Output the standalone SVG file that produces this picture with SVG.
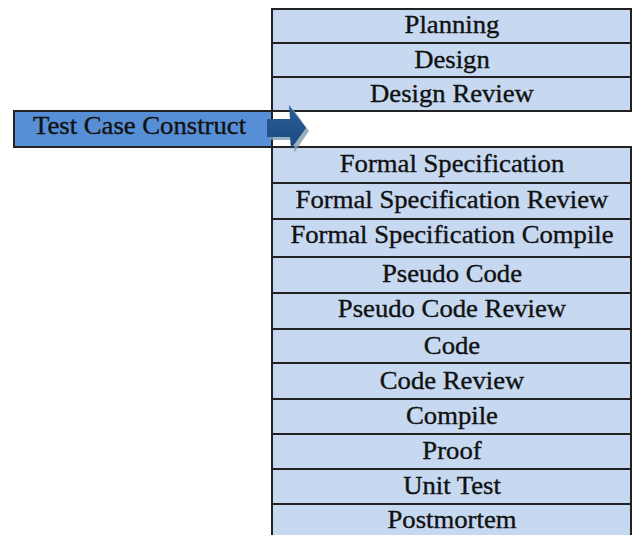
<svg xmlns="http://www.w3.org/2000/svg" width="636" height="535" viewBox="0 0 636 535">
<style>
.row{fill:#c6d9f1;stroke:#222;stroke-width:2}
.lbl{font-family:"Liberation Serif","Times New Roman",serif;font-size:24.5px;fill:#111;stroke:#111;stroke-width:0.35;text-anchor:middle}
.src{fill:#578fd6;stroke:#222;stroke-width:2}
</style>
<defs>
<linearGradient id="ag" x1="0" y1="0" x2="0" y2="1">
<stop offset="0" stop-color="#2a5d9a"/>
<stop offset="1" stop-color="#1d4a80"/>
</linearGradient>
</defs>
<rect width="636" height="535" fill="#fff"/>
<g id="planning"><rect class="row" x="272" y="9" width="359" height="34"/><text class="lbl" transform="translate(452,33) scale(1.09,1)">Planning</text></g>
<g id="design"><rect class="row" x="272" y="43" width="359" height="34"/><text class="lbl" transform="translate(452,68) scale(1.09,1)">Design</text></g>
<g id="design-review"><rect class="row" x="272" y="77" width="359" height="34"/><text class="lbl" transform="translate(452,102) scale(1.09,1)">Design Review</text></g>
<g id="formal-spec"><rect class="row" x="272" y="147" width="359" height="36"/><text class="lbl" transform="translate(452,172) scale(1.09,1)">Formal Specification</text></g>
<g id="formal-spec-review"><rect class="row" x="272" y="183" width="359" height="36"/><text class="lbl" transform="translate(452,208) scale(1.09,1)">Formal Specification Review</text></g>
<g id="formal-spec-compile"><rect class="row" x="272" y="219" width="359" height="38"/><text class="lbl" transform="translate(452,243) scale(1.09,1)">Formal Specification Compile</text></g>
<g id="pseudo-code"><rect class="row" x="272" y="257" width="359" height="36"/><text class="lbl" transform="translate(452,282) scale(1.09,1)">Pseudo Code</text></g>
<g id="pseudo-code-review"><rect class="row" x="272" y="293" width="359" height="36"/><text class="lbl" transform="translate(452,317) scale(1.09,1)">Pseudo Code Review</text></g>
<g id="code"><rect class="row" x="272" y="329" width="359" height="34"/><text class="lbl" transform="translate(452,354) scale(1.09,1)">Code</text></g>
<g id="code-review"><rect class="row" x="272" y="363" width="359" height="36"/><text class="lbl" transform="translate(452,389) scale(1.09,1)">Code Review</text></g>
<g id="compile"><rect class="row" x="272" y="399" width="359" height="35"/><text class="lbl" transform="translate(452,424) scale(1.09,1)">Compile</text></g>
<g id="proof"><rect class="row" x="272" y="434" width="359" height="35"/><text class="lbl" transform="translate(452,459) scale(1.09,1)">Proof</text></g>
<g id="unit-test"><rect class="row" x="272" y="469" width="359" height="35"/><text class="lbl" transform="translate(452,494) scale(1.09,1)">Unit Test</text></g>
<g id="postmortem"><rect class="row" x="272" y="504" width="359" height="40"/><text class="lbl" transform="translate(452,528) scale(1.09,1)">Postmortem</text></g>
<g id="test-case-construct"><rect class="src" x="14" y="111" width="258" height="36"/><text class="lbl" style="text-anchor:start" transform="translate(33,134) scale(1.09,1)">Test Case Construct</text></g>
<g id="connectors">
<polygon points="270,122 293,122 293,109 309,131 294,153 294,140 270,140" fill="#7f9eae" opacity="0.8"/>
<polygon points="267,119 290,119 289,105 306,128 291,149 290,137 267,137" fill="url(#ag)"/>
</g>
</svg>
